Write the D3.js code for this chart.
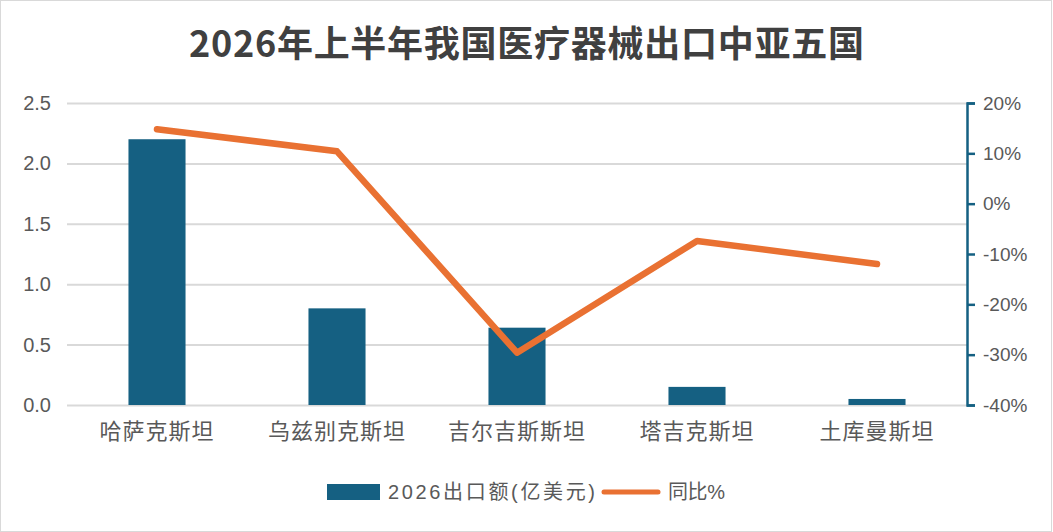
<!DOCTYPE html>
<html>
<head>
<meta charset="utf-8">
<script src="https://cdn.jsdelivr.net/npm/d3@7"></script>
<style>
  body { margin: 0; background: #fff; }
  svg text { font-family: "Liberation Sans", "Noto Sans CJK SC", sans-serif; }
</style>
</head>
<body>
<div id="chart"></div>
<script>
// data
const countries = ["哈萨克斯坦", "乌兹别克斯坦", "吉尔吉斯斯坦", "塔吉克斯坦", "土库曼斯坦"];
const exportValues = [2.2, 0.8, 0.64, 0.15, 0.05];   // 亿美元
const yoyValues = [14.8, 10.4, -29.6, -7.4, -12];    // %
const leftTicks = [0, 0.5, 1.0, 1.5, 2.0, 2.5];
const rightTicks = [-40, -30, -20, -10, 0, 10, 20];

const barColor = '#156082';
const lineColor = '#E97132';
const textColor = '#595959';

const width = 1053, height = 532;
const margin = { top: 103, right: 86, bottom: 127, left: 67 };
const plotW = width - margin.left - margin.right;
const plotH = height - margin.top - margin.bottom;

const svg = d3.select('#chart')
    .append('svg')
    .attr('width', width)
    .attr('height', height);

// outer border
svg.append('rect')
    .attr('x', 0.5).attr('y', 0.5)
    .attr('width', width - 2).attr('height', height - 1)
    .attr('fill', '#fff')
    .attr('stroke', '#d9d9d9');

// title
svg.append('text')
    .attr('x', width / 2)
    .attr('y', 57)
    .attr('text-anchor', 'middle')
    .attr('textLength', 675)
    .attr('lengthAdjust', 'spacing')
    .style('font-family', '"Noto Sans CJK SC", sans-serif')
    .style('font-size', '36px')
    .style('font-weight', 'bold')
    .style('fill', '#404040')
    .text('2026年上半年我国医疗器械出口中亚五国');

const g = svg.append('g')
    .attr('transform', `translate(${margin.left},${margin.top})`);

// scales
const x = d3.scaleBand()
    .domain(countries)
    .range([0, plotW])
    .paddingInner(0.683)
    .paddingOuter(0.3415);

const yLeft = d3.scaleLinear().domain([0, 2.5]).range([plotH, 0]);
const yRight = d3.scaleLinear().domain([-40, 20]).range([plotH, 0]);

// gridlines
g.append('g')
    .call(d3.axisLeft(yLeft).tickValues(leftTicks).tickSize(-plotW).tickFormat(''))
    .call(a => a.select('.domain').remove())
    .selectAll('.tick line')
    .style('stroke', '#d9d9d9')
    .style('stroke-width', 2);

// left axis labels
g.append('g')
    .call(d3.axisLeft(yLeft).tickValues(leftTicks).tickSize(0).tickPadding(16).tickFormat(d3.format('.1f')))
    .call(a => a.select('.domain').remove())
    .selectAll('.tick text')
    .style('font-size', '20px')
    .style('fill', textColor);

// bars
g.selectAll('.bar')
    .data(countries)
    .join('rect')
    .attr('class', 'bar')
    .attr('x', d => x(d))
    .attr('y', (d, i) => yLeft(exportValues[i]))
    .attr('width', x.bandwidth())
    .attr('height', (d, i) => plotH - yLeft(exportValues[i]))
    .attr('fill', barColor);

// right axis
const rightAxis = g.append('g')
    .attr('transform', `translate(${plotW},0)`)
    .call(d3.axisRight(yRight).tickValues(rightTicks).tickSizeInner(8).tickSizeOuter(8).tickPadding(8).tickFormat(d => d + '%'));
rightAxis.selectAll('.domain, .tick line')
    .style('stroke', barColor)
    .style('stroke-width', 2.5);
rightAxis.selectAll('.tick text')
    .style('font-size', '19px')
    .style('fill', textColor)
    .text(d => (d < 0 ? '-' + Math.abs(d) : d) + '%');

// line
const cx = d => x(d) + x.bandwidth() / 2;
const line = d3.line()
    .x(d => cx(d))
    .y((d, i) => yRight(yoyValues[i]));

g.append('path')
    .datum(countries)
    .attr('d', line)
    .attr('fill', 'none')
    .attr('stroke', lineColor)
    .attr('stroke-width', 6.5)
    .attr('stroke-linejoin', 'round')
    .attr('stroke-linecap', 'round');

// category labels
g.append('g')
    .attr('transform', `translate(0,${plotH})`)
    .call(d3.axisBottom(x).tickSize(0).tickPadding(18))
    .call(a => a.select('.domain').remove())
    .selectAll('.tick text')
    .style('font-family', '"Noto Sans CJK SC", sans-serif')
    .style('font-size', '22px')
    .style('letter-spacing', '1px')
    .style('fill', textColor);

// legend
const legend = svg.append('g').attr('transform', 'translate(0,492)');
legend.append('rect')
    .attr('x', 327).attr('y', -8)
    .attr('width', 53).attr('height', 16)
    .attr('fill', barColor);
legend.append('text')
    .attr('x', 388).attr('y', 0).attr('dy', '0.35em')
    .attr('textLength', 207)
    .attr('lengthAdjust', 'spacing')
    .style('font-size', '20px')
    .style('fill', textColor)
    .text('2026出口额(亿美元)');
legend.append('line')
    .attr('x1', 604).attr('x2', 658)
    .attr('stroke', lineColor)
    .attr('stroke-width', 5)
    .attr('stroke-linecap', 'round');
legend.append('text')
    .attr('x', 668).attr('y', 0).attr('dy', '0.35em')
    .attr('textLength', 57)
    .attr('lengthAdjust', 'spacing')
    .style('font-size', '20px')
    .style('fill', textColor)
    .text('同比%');
</script>
</body>
</html>
